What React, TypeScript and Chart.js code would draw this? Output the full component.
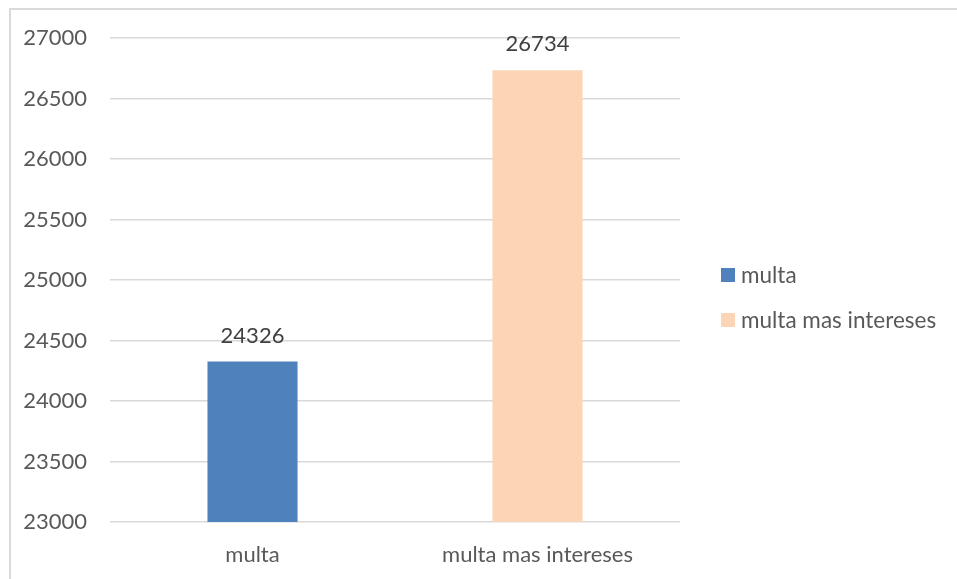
import React, { useEffect, useRef } from "react";
import { Chart, registerables } from "chart.js";

Chart.register(...registerables);

const categories = ["multa", "multa mas intereses"];
const seriesNames = ["multa", "multa mas intereses"];
const multaValues = [24326, null];
const interesesValues = [null, 26734];
const seriesColors = ["#4F81BD", "#FBD5B5"];
const yMin = 23000;
const yMax = 27000;
const yStep = 500;

const FONT = "Lato";
const TEXT_COLOR = "#595959";

const dataLabelPlugin = {
  id: "dataLabels",
  afterDatasetsDraw(chart: any) {
    const ctx = chart.ctx;
    ctx.save();
    ctx.font = `22px ${FONT}`;
    ctx.fillStyle = "#404040";
    ctx.textAlign = "center";
    ctx.textBaseline = "middle";
    chart.data.datasets.forEach((ds: any, di: number) => {
      const meta = chart.getDatasetMeta(di);
      meta.data.forEach((el: any, i: number) => {
        const v = ds.data[i];
        if (v === null || v === undefined) return;
        ctx.fillText(String(v), el.x, el.y - 26);
      });
    });
    ctx.restore();
  },
};

const legendPlugin = {
  id: "customLegend",
  afterDraw(chart: any) {
    const ctx = chart.ctx;
    ctx.save();
    ctx.font = `22.5px ${FONT}`;
    ctx.textAlign = "left";
    ctx.textBaseline = "middle";
    chart.data.datasets.forEach((ds: any, i: number) => {
      const cy = 275 + i * 45;
      ctx.fillStyle = ds.backgroundColor;
      ctx.fillRect(721, cy - 7, 14, 14);
      ctx.fillStyle = TEXT_COLOR;
      ctx.fillText(ds.label, 741, cy + 1);
    });
    ctx.restore();
  },
};

export default function App() {
  const ref = useRef<HTMLCanvasElement | null>(null);
  useEffect(() => {
    if (!ref.current) return;
    const chart = new Chart(ref.current, {
      type: "bar",
      data: {
        labels: categories,
        datasets: [
          {
            label: seriesNames[0],
            data: multaValues,
            backgroundColor: seriesColors[0],
            grouped: false,
            categoryPercentage: 1,
            barPercentage: 0.316,
          } as any,
          {
            label: seriesNames[1],
            data: interesesValues,
            backgroundColor: seriesColors[1],
            grouped: false,
            categoryPercentage: 1,
            barPercentage: 0.316,
          } as any,
        ],
      },
      options: {
        responsive: false,
        animation: false,
        layout: { padding: { left: 10, right: 277, top: 38, bottom: 0 } },
        plugins: {
          legend: { display: false },
          tooltip: { enabled: false },
        },
        scales: {
          x: {
            grid: { display: false, drawTicks: false },
            border: { display: false },
            ticks: {
              color: TEXT_COLOR,
              font: { family: FONT, size: 22 },
              padding: 20,
            },
            afterFit(axis: any) {
              axis.height = 57;
            },
          },
          y: {
            min: yMin,
            max: yMax,
            grid: { color: "#d9d9d9", lineWidth: 1.5, drawTicks: false },
            border: { display: false },
            ticks: {
              stepSize: yStep,
              color: TEXT_COLOR,
              font: { family: FONT, size: 22 },
              padding: 23,
              callback: (v: any) => String(v),
            },
            afterFit(axis: any) {
              axis.width = 100;
            },
          },
        },
      },
      plugins: [dataLabelPlugin, legendPlugin],
    });
    return () => chart.destroy();
  }, []);

  return (
    <div
      style={{
        position: "fixed",
        left: 0,
        top: 0,
        width: 957,
        height: 579,
        overflow: "hidden",
        background: "#fff",
      }}
    >
      <div
        style={{
          position: "absolute",
          left: 9,
          top: 8,
          width: 1000,
          height: 700,
          border: "2px solid #d9d9d9",
          boxSizing: "border-box",
        }}
      />
      <canvas
        ref={ref}
        width={957}
        height={579}
        style={{ position: "absolute", left: 0, top: 0, width: 957, height: 579 }}
      />
    </div>
  );
}
